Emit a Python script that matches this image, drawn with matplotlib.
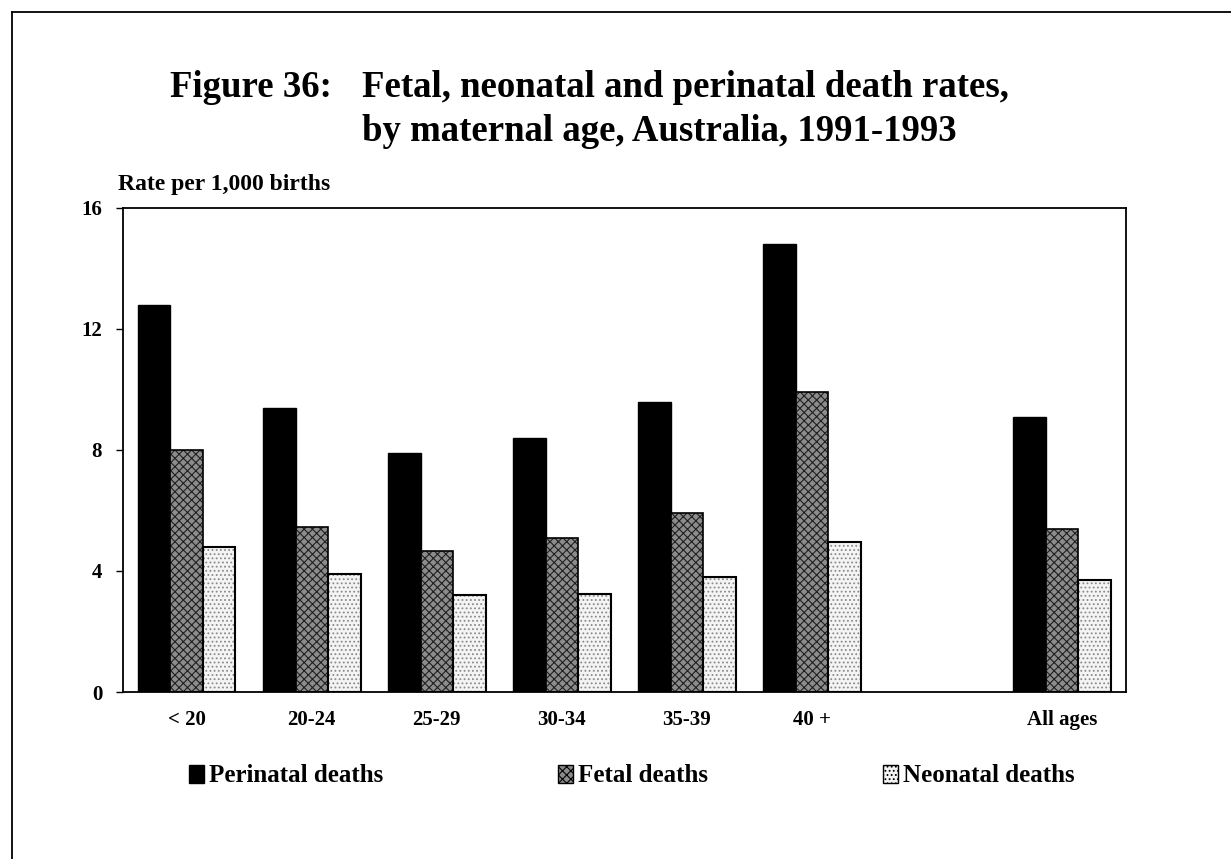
import numpy as np
import matplotlib
matplotlib.use('Agg')
import matplotlib.pyplot as plt
from matplotlib.patches import Patch
from matplotlib.lines import Line2D

plt.rcParams['font.family'] = 'Liberation Serif'
plt.rcParams['font.weight'] = 'bold'
plt.rcParams['hatch.linewidth'] = 0.8

ages = ['< 20', '20-24', '25-29', '30-34', '35-39', '40 +', 'All ages']
pos = [0, 1, 2, 3, 4, 5, 7]
perinatal = [12.8, 9.4, 7.9, 8.4, 9.6, 14.8, 9.1]
fetal = [8.0, 5.45, 4.65, 5.1, 5.9, 9.9, 5.4]
neonatal = [4.8, 3.9, 3.2, 3.25, 3.8, 4.95, 3.7]

W, H = 1231, 859
fig = plt.figure(figsize=(W / 100, H / 100), dpi=100)
ax = fig.add_axes([0.0999, 0.1944, 0.8145, 0.5636])

x = np.array(pos)
w = 0.26
ax.bar(x - w, perinatal, w, color='black', edgecolor='black', lw=1)
# hatched fills first, then plain outlines on top
ax.bar(x, fetal, w, color='#8c8c8c', edgecolor='#202020', hatch='xxxx', lw=0)
ax.bar(x, fetal, w, fill=False, edgecolor='black', lw=1.2)
ax.bar(x + w, neonatal, w, color='#f4f4f4', edgecolor='#8a8a8a', hatch='....', lw=0)
ax.bar(x + w, neonatal, w, fill=False, edgecolor='black', lw=1.5)

ax.set_xlim(-0.51, 7.51)
ax.set_ylim(0, 16)
ax.set_yticks([0, 4, 8, 12, 16])
ax.set_xticks(pos)
ax.set_xticklabels(ages)
ax.tick_params(axis='x', length=0, pad=13, labelsize=15)
ax.tick_params(axis='y', length=5, width=1, pad=10, labelsize=15)
for s in ax.spines.values():
    s.set_linewidth(1.3)

fig.text(118 / W, 1 - 190 / H, 'Rate per 1,000 births', fontsize=17,
         va='baseline', weight='bold')

fig.text(170 / W, 1 - 97 / H, 'Figure 36:', fontsize=26.5, va='baseline')
fig.text(362 / W, 1 - 97 / H, 'Fetal, neonatal and perinatal death rates,',
         fontsize=26.5, va='baseline')
fig.text(362 / W, 1 - 141 / H, 'by maternal age, Australia, 1991-1993',
         fontsize=26.5, va='baseline')

handles = [Patch(facecolor='black', edgecolor='black'),
           Patch(facecolor='#8c8c8c', edgecolor='black', hatch='xxxx'),
           Patch(facecolor='#f4f4f4', edgecolor='black', hatch='....')]
fig.legend(handles, ['Perinatal deaths', 'Fetal deaths', 'Neonatal deaths'],
           ncol=3, loc='center left', bbox_to_anchor=(189 / W, 1 - 776 / H),
           frameon=False, fontsize=18, handlelength=0.6, handleheight=0.75,
           handletextpad=0.2, columnspacing=7.0, borderpad=0, borderaxespad=0)

# page border (cut off at the right and bottom)
fig.add_artist(Line2D([12 / W, 12 / W], [0, 1 - 12 / H], color='black', lw=1.3,
                      transform=fig.transFigure))
fig.add_artist(Line2D([12 / W, 1], [1 - 12 / H, 1 - 12 / H], color='black', lw=1.3,
                      transform=fig.transFigure))

fig.savefig('out.png', dpi=100)
